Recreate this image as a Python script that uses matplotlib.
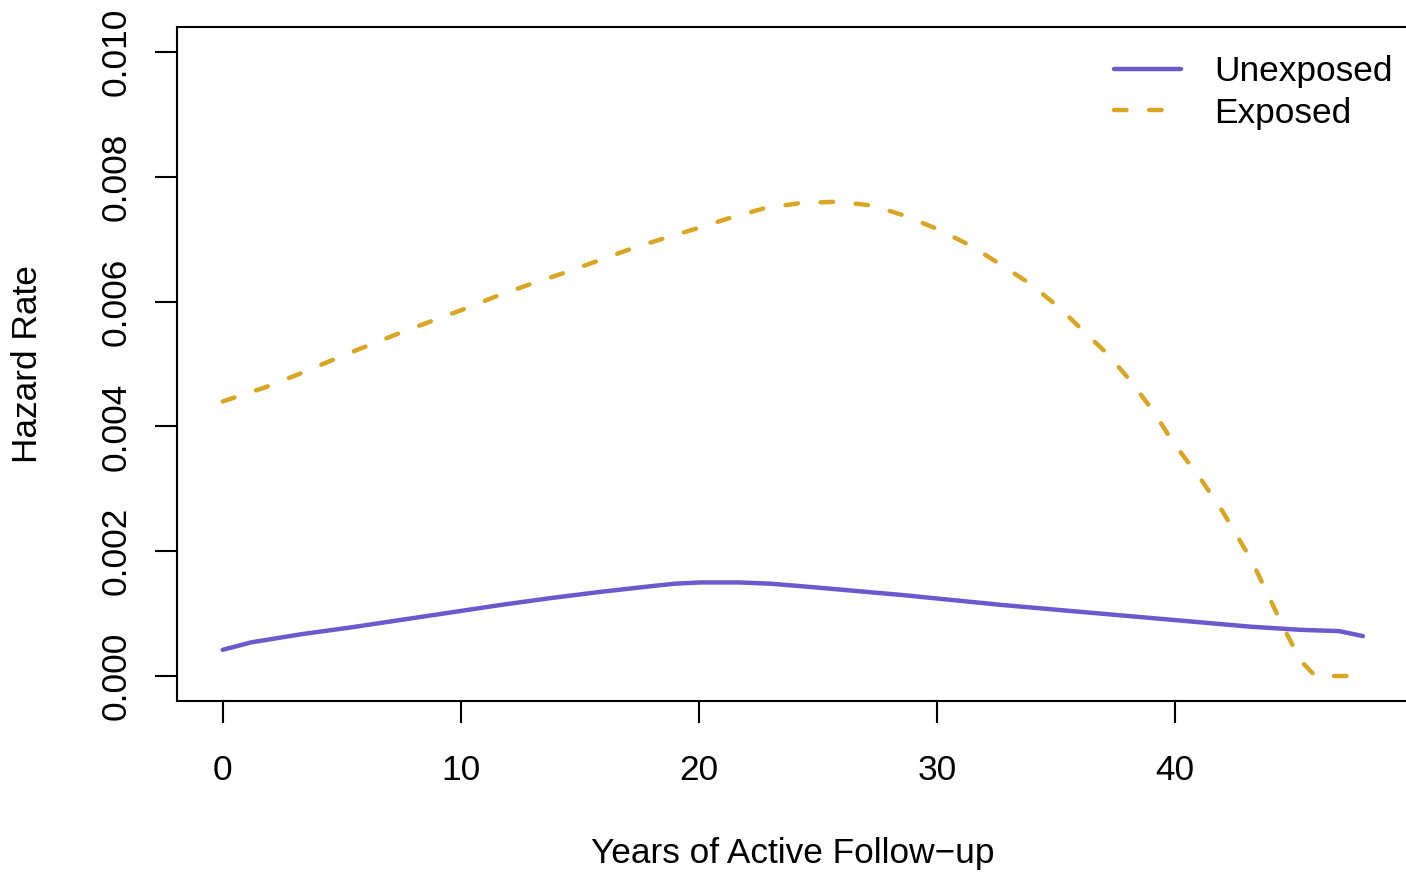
import matplotlib
matplotlib.use("Agg")
import matplotlib.pyplot as plt

# ---- data ----
years_unexp = [0, 1.2, 3.3, 5.4, 7.5, 9.6, 11.7, 13.8, 15.9, 18.0, 19.0, 20.1, 21.7, 23.0,
               24.3, 26.4, 28.5, 30.6, 32.7, 34.8, 36.9, 39.0, 41.1, 43.2, 45.3, 46.9, 47.9]
haz_unexp = [0.00042, 0.00054, 0.00067, 0.00078, 0.00090, 0.00102, 0.00114, 0.00125,
             0.00135, 0.00144, 0.00148, 0.00150, 0.00150, 0.00148, 0.00144, 0.00137,
             0.00130, 0.00122, 0.00114, 0.00107, 0.00100, 0.00093, 0.00086, 0.00079,
             0.00074, 0.00072, 0.00064]

years_exp = [0, 1.74, 3.15, 4.46, 5.87, 7.26, 8.65, 10.07, 11.46, 12.85, 14.27, 15.66,
             17.04, 18.5, 19.9, 21.3, 22.8, 24.3, 25.8, 27.3, 28.7, 30.1, 31.4, 32.7,
             33.9, 35.1, 36.1, 37.2, 38.2, 39.1, 39.9, 41.1, 42.0, 43.2, 44.0, 44.6,
             45.3, 45.9, 47.9]
haz_exp = [0.00440, 0.00462, 0.00483, 0.00504, 0.00526, 0.00547, 0.00567, 0.00587,
           0.00608, 0.00627, 0.00645, 0.00664, 0.00683, 0.00701, 0.00717, 0.00734,
           0.00750, 0.00758, 0.00760, 0.00754, 0.00737, 0.00715, 0.00690, 0.00659,
           0.00629, 0.00592, 0.00555, 0.00515, 0.00470, 0.00424, 0.00376, 0.00315,
           0.00264, 0.00187, 0.00123, 0.00075, 0.00024, 0.0, 0.0]

x_ticks = [0, 10, 20, 30, 40]
y_ticks = [0.000, 0.002, 0.004, 0.006, 0.008, 0.010]
y_tick_labels = ["0.000", "0.002", "0.004", "0.006", "0.008", "0.010"]
series_labels = ["Unexposed", "Exposed"]
x_label = "Years of Active Follow\u2212up"
y_label = "Hazard Rate"

# ---- style ----
plt.rcParams['font.family'] = ['Liberation Sans', 'DejaVu Sans']
FS = 25.4
W, H = 1406, 872
fig = plt.figure(figsize=(W / 100, H / 100), dpi=100)
L, R, B, T = 177, 1411, 701, 27
ax = fig.add_axes([L / W, (H - B) / H, (R - L) / W, (B - T) / H])

purple = "#6A5ACD"
gold = "#DAA520"

ax.plot(years_unexp, haz_unexp, color=purple, lw=3.2, solid_capstyle='round',
        solid_joinstyle='round', label=series_labels[0])
ax.plot(years_exp, haz_exp, color=gold, lw=3.2, ls=(0, (2.8, 5.1)),
        dash_capstyle='round', dash_joinstyle='round', label=series_labels[1])

ax.set_xlim(-1.92, 49.92)
ax.set_ylim(-0.0004, 0.0104)
ax.set_xticks(x_ticks)
ax.set_xticklabels([str(t) for t in x_ticks])
ax.set_yticks(y_ticks)
ax.set_yticklabels(y_tick_labels, rotation=90, va='center')

for s in ax.spines.values():
    s.set_linewidth(1.5)
ax.tick_params(axis='both', length=16, width=1.5, labelsize=FS, color='black')
ax.tick_params(axis='x', pad=22)
ax.tick_params(axis='y', pad=16)

ax.set_xlabel(x_label, fontsize=FS)
ax.set_ylabel(y_label, fontsize=FS)
ax.xaxis.label.set_va('center')
ax.yaxis.label.set_va('center')
ax.xaxis.set_label_coords((793 - L) / (R - L), (B - 853) / (B - T))
ax.yaxis.set_label_coords((28 - L) / (R - L), (B - 364) / (B - T))

leg = ax.legend(loc='upper left', bbox_to_anchor=((1114 - L) / (R - L), (B - 55) / (B - T)),
                frameon=False, fontsize=FS, handlelength=1.9, handletextpad=0.95,
                labelspacing=0.25, borderaxespad=0, borderpad=0)

fig.savefig("out.png", dpi=100)
